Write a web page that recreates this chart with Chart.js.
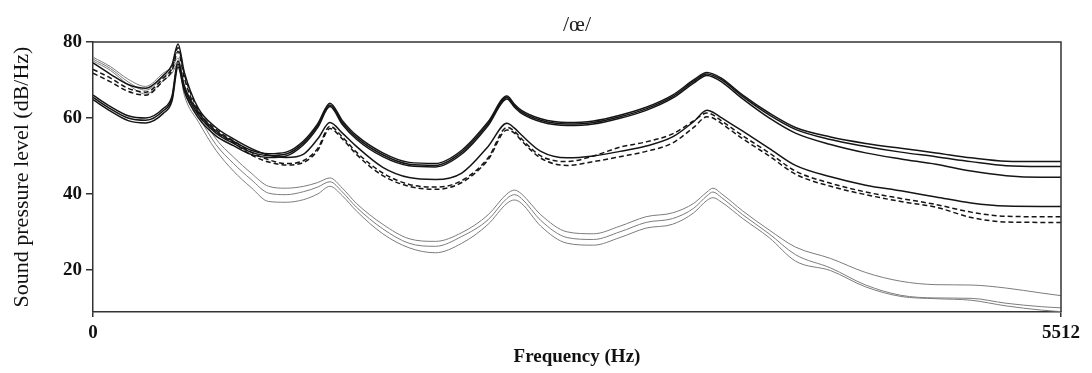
<!DOCTYPE html>
<html>
<head>
<meta charset="utf-8">
<script src="https://cdn.jsdelivr.net/npm/chart.js@4.4.1/dist/chart.umd.min.js"></script>
<style>
  html, body { margin: 0; padding: 0; background: #fff; }
  #wrap { width: 1092px; height: 373px; position: relative; }
</style>
</head>
<body>
<div id="wrap"><canvas id="c"></canvas></div>
<script>
// Frequency grid (Hz) shared by every spectrum
const freq = [0, 100, 200, 300, 400, 450, 484, 520, 600, 700, 800, 900, 1000, 1100, 1200, 1280,
  1349, 1420, 1500, 1650, 1800, 1950, 2100, 2250, 2357, 2400, 2440, 2550, 2700, 2850, 3000, 3150,
  3300, 3420, 3496, 3530, 3580, 3700, 3850, 4000, 4200, 4400, 4600, 4800, 5000, 5200, 5400, 5512];

// Upper set (solid black)
const solidA1 = [66, 63, 60.6, 60, 62.5, 65.8, 75, 68.5, 61.5, 56.5, 53.8, 51.5, 50.6, 51, 54, 58.5,
  63.9, 59.3, 55.4, 50.8, 48.3, 48, 51.5, 59, 65.8, 63.6, 62, 59.8, 58.8, 59.2, 60.7, 62.8,
  66, 70, 72, 71.6, 70.4, 66, 61.3, 57.5, 55, 53.3, 52, 50.8, 49.5, 48.6, 48.5, 48.5];
const solidA2 = [65.4, 62.4, 60, 59.4, 61.9, 65.2, 74.2, 67.8, 60.8, 56, 53.3, 51, 50.1, 50.5, 53.5, 58,
  63.4, 58.8, 54.9, 50.3, 47.8, 47.5, 51, 58.5, 65.4, 63.2, 61.6, 59.4, 58.4, 58.8, 60.3, 62.4,
  65.6, 69.6, 71.6, 71.2, 70, 65.6, 60.8, 57, 54.3, 52.5, 51, 49.8, 48.5, 47.4, 47.2, 47.2];
const solidA3 = [64.8, 61.8, 59.3, 58.7, 61.2, 64.5, 73.4, 67, 60, 55.3, 52.7, 50.4, 49.6, 50, 53, 57.5,
  63, 58.3, 54.4, 49.8, 47.4, 47.1, 50.5, 58, 65, 62.8, 61.2, 59, 58, 58.4, 59.9, 62,
  65.2, 69.2, 71.2, 70.8, 69.5, 65, 60, 56, 53, 50.8, 49.2, 47.8, 46, 44.8, 44.4, 44.4];

// Middle set (one solid, two dashed)
const midB1 = [74.5, 71.5, 68.8, 67.8, 71.2, 74, 79.5, 72, 62.5, 57.5, 54.5, 52, 50.2, 49.6, 50.5, 54.5,
  58.8, 56, 52.5, 47, 44.3, 43.8, 45.5, 52.5, 58.6, 57.3, 55.5, 51.2, 49.5, 50, 51.2, 52.6,
  55, 59, 62, 61.5, 60, 56.5, 52, 47.5, 44.5, 42.3, 40.8, 39.2, 37.6, 36.8, 36.7, 36.7];
const dashB2 = [72.8, 70.5, 67.8, 66.8, 70.5, 73.2, 78.5, 71.5, 62, 57, 54, 51, 49, 48, 48.8, 52,
  57.8, 55, 51, 45.5, 42.5, 41.8, 43.5, 49.5, 57.5, 56.5, 54.5, 50, 48.5, 50, 52.3, 53.7,
  55.8, 59.2, 61.3, 60.8, 59.2, 55.3, 50.8, 46, 42.8, 40.5, 38.8, 37.2, 35.2, 34.1, 34, 34];
const dashB3 = [71.8, 69.5, 67, 66, 69.8, 72.5, 77.5, 70.5, 61, 56.5, 53.5, 50.3, 48.4, 47.6, 48.3, 51.5,
  57.2, 54.5, 50.4, 44.8, 42, 41.2, 43, 49, 56.8, 56, 54, 49.4, 47.5, 48.5, 49.8, 51.2,
  53.4, 57.5, 60.3, 60, 58.5, 54.5, 50, 45.2, 42, 39.8, 38, 36.5, 33.8, 32.6, 32.5, 32.5];

// Lower set (grey)
const greyC1 = [76, 73.5, 70.2, 68.3, 71.8, 73.5, 75.8, 68, 62, 54.5, 49.7, 45.5, 42, 41.5, 42, 43,
  44.2, 41.5, 37.5, 32, 28.2, 27.5, 29.8, 34.5, 40, 41, 40, 34.5, 30, 29.5, 31.5, 34,
  35, 37.5, 40.5, 41.5, 40, 35.5, 30.5, 26, 23, 19.3, 17, 16.1, 16, 15.2, 13.9, 13.2];
const greyC2 = [75.5, 73, 69.5, 67.3, 70.8, 72.6, 75, 67, 60.5, 53, 48, 43.8, 40.2, 39.8, 40.6, 41.8,
  43.2, 40.5, 36.5, 30.8, 27, 26.2, 28.8, 33.2, 38.8, 39.8, 38.8, 33, 28.5, 28, 30, 32.5,
  33.5, 36.2, 39.5, 40.5, 39, 34.5, 29.5, 24, 20.5, 16, 13.3, 12.6, 12.5, 11.2, 10.3, 10];
const greyC3 = [75, 72.5, 68.8, 66.3, 69.8, 71.8, 74.2, 66, 59, 51.5, 46, 41.7, 38, 37.8, 38.5, 40,
  42, 39.5, 35.5, 29.5, 25.8, 24.5, 27, 32, 37.5, 38.4, 37.5, 31.5, 27, 26.5, 28.5, 31,
  32, 35, 38.3, 39, 37.8, 33.5, 28.5, 22.3, 19.8, 15.5, 13, 12.4, 12, 10.5, 9.4, 9];

const yTicks = [20, 40, 60, 80];
const xTicks = [0, 5512];

const toPoints = vals => vals.map((v, i) => ({ x: freq[i], y: v }));

function line(vals, color, width, dash) {
  return {
    data: toPoints(vals),
    borderColor: color,
    borderWidth: width,
    borderDash: dash || [],
    pointRadius: 0,
    fill: false,
    cubicInterpolationMode: 'monotone'
  };
}

const INK = '#151515';
const GREY = '#7c7c7c';

// Closes the plot frame on its top and right sides
const frame = {
  id: 'frame',
  afterDatasetsDraw(chart) {
    const { ctx, chartArea: a } = chart;
    ctx.save();
    ctx.strokeStyle = '#333';
    ctx.lineWidth = 1.5;
    ctx.beginPath();
    ctx.moveTo(a.left, a.top);
    ctx.lineTo(a.right, a.top);
    ctx.lineTo(a.right, a.bottom);
    ctx.stroke();
    ctx.restore();
  }
};

Chart.defaults.font.family = '"Liberation Serif", "Times New Roman", serif';
Chart.defaults.color = '#111';

new Chart(document.getElementById('c'), {
  type: 'line',
  data: {
    datasets: [
      line(solidA1, INK, 1.5),
      line(solidA2, INK, 1.5),
      line(solidA3, INK, 1.5),
      line(midB1, INK, 1.5),
      line(dashB2, INK, 1.5, [5, 3]),
      line(dashB3, INK, 1.5, [5, 3]),
      line(greyC1, GREY, 1),
      line(greyC2, GREY, 1),
      line(greyC3, GREY, 1)
    ]
  },
  options: {
    responsive: true,
    maintainAspectRatio: false,
    animation: false,
    layout: { padding: { left: 0, right: 31, top: 0, bottom: 0 } },
    plugins: {
      legend: { display: false },
      tooltip: { enabled: false },
      title: {
        display: true,
        text: '/œ/',
        fullSize: false,
        color: '#222',
        font: { size: 22, weight: 'normal' },
        padding: { top: 12, bottom: 3.6 }
      }
    },
    scales: {
      x: {
        type: 'linear',
        min: 0,
        max: 5512,
        afterBuildTicks: s => { s.ticks = xTicks.map(v => ({ value: v })); },
        afterFit: s => { s.height = 61; },
        ticks: {
          callback: v => String(v),
          font: { size: 19, weight: 'bold' },
          color: '#111',
          padding: 5,
          maxRotation: 0
        },
        grid: { drawOnChartArea: false, drawTicks: true, tickLength: 5, color: '#333', lineWidth: 1.5 },
        border: { display: true, color: '#333', width: 1.5 },
        title: {
          display: true,
          text: 'Frequency (Hz)',
          font: { size: 19, weight: 'bold' },
          color: '#111',
          padding: { top: 0, bottom: 4.6 }
        }
      },
      y: {
        type: 'linear',
        min: 8.9,
        max: 80,
        afterBuildTicks: s => { s.ticks = yTicks.map(v => ({ value: v })); },
        afterFit: s => { s.width = 93; },
        ticks: {
          callback: v => String(v),
          font: { size: 19, weight: 'bold' },
          color: '#111',
          padding: 4
        },
        grid: { drawOnChartArea: false, drawTicks: true, tickLength: 7, color: '#333', lineWidth: 1.5 },
        border: { display: true, color: '#333', width: 1.5 },
        title: {
          display: true,
          text: 'Sound pressure level (dB/Hz)',
          font: { size: 22, weight: 'normal' },
          color: '#111',
          padding: { top: 8.8, bottom: 0 }
        }
      }
    }
  },
  plugins: [frame]
});
</script>
</body>
</html>
